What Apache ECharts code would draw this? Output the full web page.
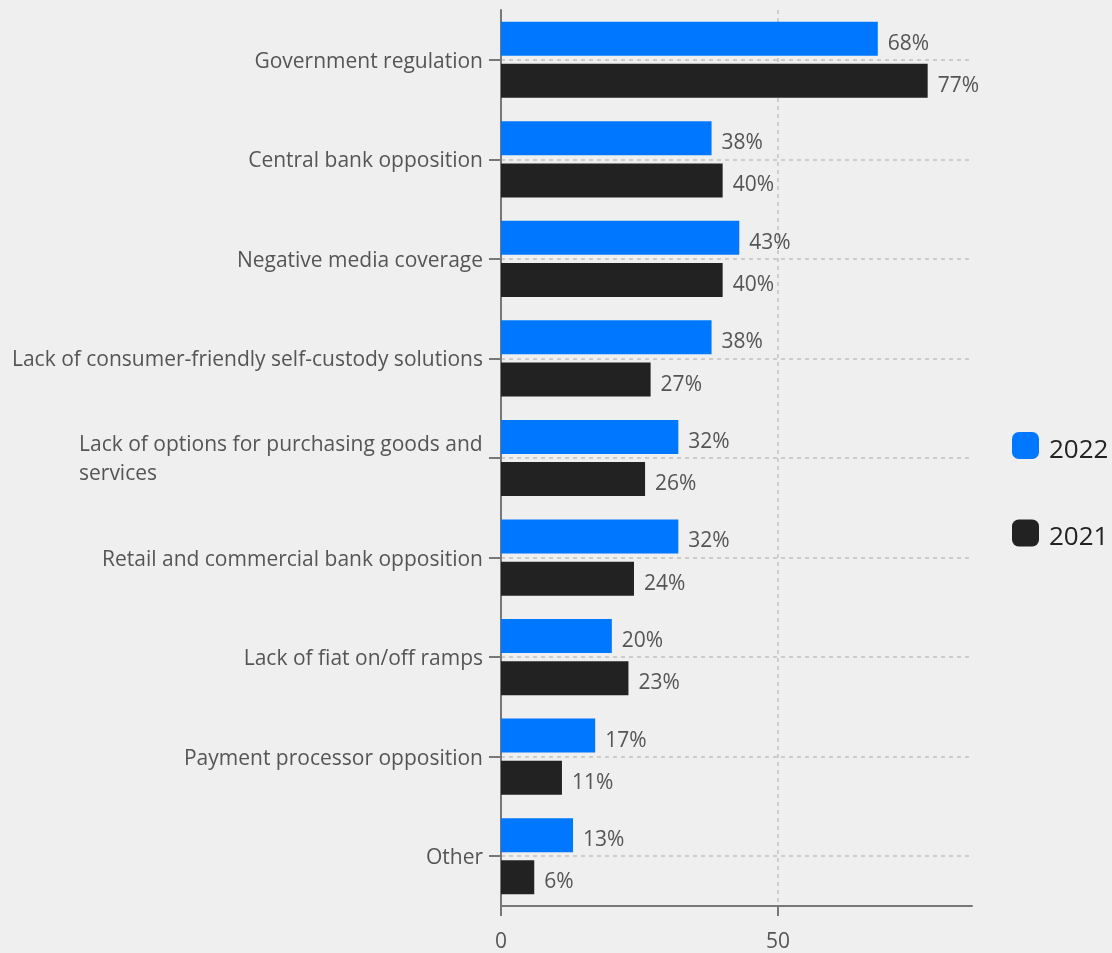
<!DOCTYPE html>
<html>
<head>
<meta charset="utf-8">
<script src="https://cdn.jsdelivr.net/npm/echarts@6/dist/echarts.min.js"></script>
<style>
  html, body { margin: 0; padding: 0; background: #efefef; }
  #chart { width: 1112px; height: 953px; }
</style>
</head>
<body>
<div id="chart"></div>
<script>
// Obstacles to crypto adoption, share of respondents (%)
const categories = [
  'Government regulation',
  'Central bank opposition',
  'Negative media coverage',
  'Lack of consumer-friendly self-custody solutions',
  'Lack of options for purchasing goods and services',
  'Retail and commercial bank opposition',
  'Lack of fiat on/off ramps',
  'Payment processor opposition',
  'Other'
];
const values2022 = [68, 38, 43, 38, 32, 32, 20, 17, 13];
const values2021 = [77, 40, 40, 27, 26, 24, 23, 11, 6];
const xTicks = [0, 50];

const FONT = '"Open Sans", sans-serif';
const LABEL_SIZE = 21;
const LABEL_MAX = 480;

// Word-wrap long category names; wrapped lines stay left-aligned to each other
const ctx = document.createElement('canvas').getContext('2d');
ctx.font = LABEL_SIZE + 'px "Open Sans"';
const rich = {};
const labelText = {};
categories.forEach((name, i) => {
  if (ctx.measureText(name).width <= LABEL_MAX) { labelText[name] = name; return; }
  const words = name.split(' ');
  const lines = [];
  let cur = '';
  words.forEach(w => {
    const t = cur ? cur + ' ' + w : w;
    if (ctx.measureText(t).width > LABEL_MAX && cur) { lines.push(cur); cur = w; }
    else cur = t;
  });
  if (cur) lines.push(cur);
  const wMax = Math.ceil(Math.max(...lines.map(l => ctx.measureText(l).width)));
  const key = 'w' + i;
  rich[key] = { width: wMax, align: 'left', fontSize: LABEL_SIZE, lineHeight: 29, color: '#555', fontFamily: FONT };
  labelText[name] = lines.map(l => '{' + key + '|' + l + '}').join('\n');
});

const chart = echarts.init(document.getElementById('chart'), null, { renderer: 'canvas' });

const barLabel = {
  show: true,
  position: 'right',
  distance: 10,
  offset: [0, 5],
  formatter: '{c}%',
  fontSize: LABEL_SIZE,
  fontFamily: FONT,
  color: '#555'
};

const gridLineStyle = { color: '#cccccc', type: [4, 4], width: 2 };

chart.setOption({
  backgroundColor: '#efefef',
  animation: false,
  textStyle: { fontFamily: FONT },
  grid: { left: 501, right: 140, top: 10, bottom: 45, containLabel: false },
  legend: {
    orient: 'vertical',
    left: 1012,
    top: 432,
    padding: 0,
    itemWidth: 27,
    itemHeight: 27,
    itemGap: 56,
    icon: 'roundRect',
    formatter: '{t|{name}}',
    textStyle: {
      fontSize: 26,
      color: '#222',
      fontFamily: FONT,
      rich: { t: { fontSize: 26, color: '#222', fontFamily: FONT, padding: [10, 0, 0, 5] } }
    },
    data: ['2022', '2021']
  },
  xAxis: {
    type: 'value',
    min: 0,
    max: 85,
    interval: 50,
    axisLine: { show: true, lineStyle: { color: '#777', width: 2 } },
    axisTick: { show: true, length: 10, customValues: xTicks, lineStyle: { color: '#777', width: 2 } },
    axisLabel: { customValues: xTicks, fontSize: LABEL_SIZE, color: '#555', margin: 26, fontFamily: FONT },
    splitLine: { show: false }
  },
  yAxis: {
    type: 'category',
    inverse: true,
    data: categories,
    axisLine: { show: true, lineStyle: { color: '#777', width: 2 } },
    axisTick: { show: true, alignWithLabel: true, length: 12, lineStyle: { color: '#777', width: 2 } },
    axisLabel: {
      fontSize: LABEL_SIZE,
      color: '#555',
      margin: 18,
      padding: [4, 0, 0, 0],
      fontFamily: FONT,
      formatter: v => labelText[v],
      rich: rich
    },
    splitLine: { show: false }
  },
  series: [
    {
      // background guide lines: one through each category centre, one at each x tick
      name: 'guides',
      type: 'line',
      z: 0,
      silent: true,
      data: categories.map(() => null),
      markLine: {
        silent: true,
        z: 0,
        symbol: 'none',
        label: { show: false },
        lineStyle: gridLineStyle,
        data: categories.map(c => ({ yAxis: c })).concat(
          xTicks.filter(t => t > 0).map(t => ({ xAxis: t }))
        )
      }
    },
    {
      name: '2022',
      type: 'bar',
      z: 2,
      data: values2022,
      barWidth: 34,
      barGap: '24%',
      itemStyle: { color: '#0077ff' },
      label: barLabel
    },
    {
      name: '2021',
      type: 'bar',
      z: 2,
      data: values2021,
      barWidth: 34,
      itemStyle: { color: '#222222' },
      label: barLabel
    }
  ]
});
</script>
</body>
</html>
